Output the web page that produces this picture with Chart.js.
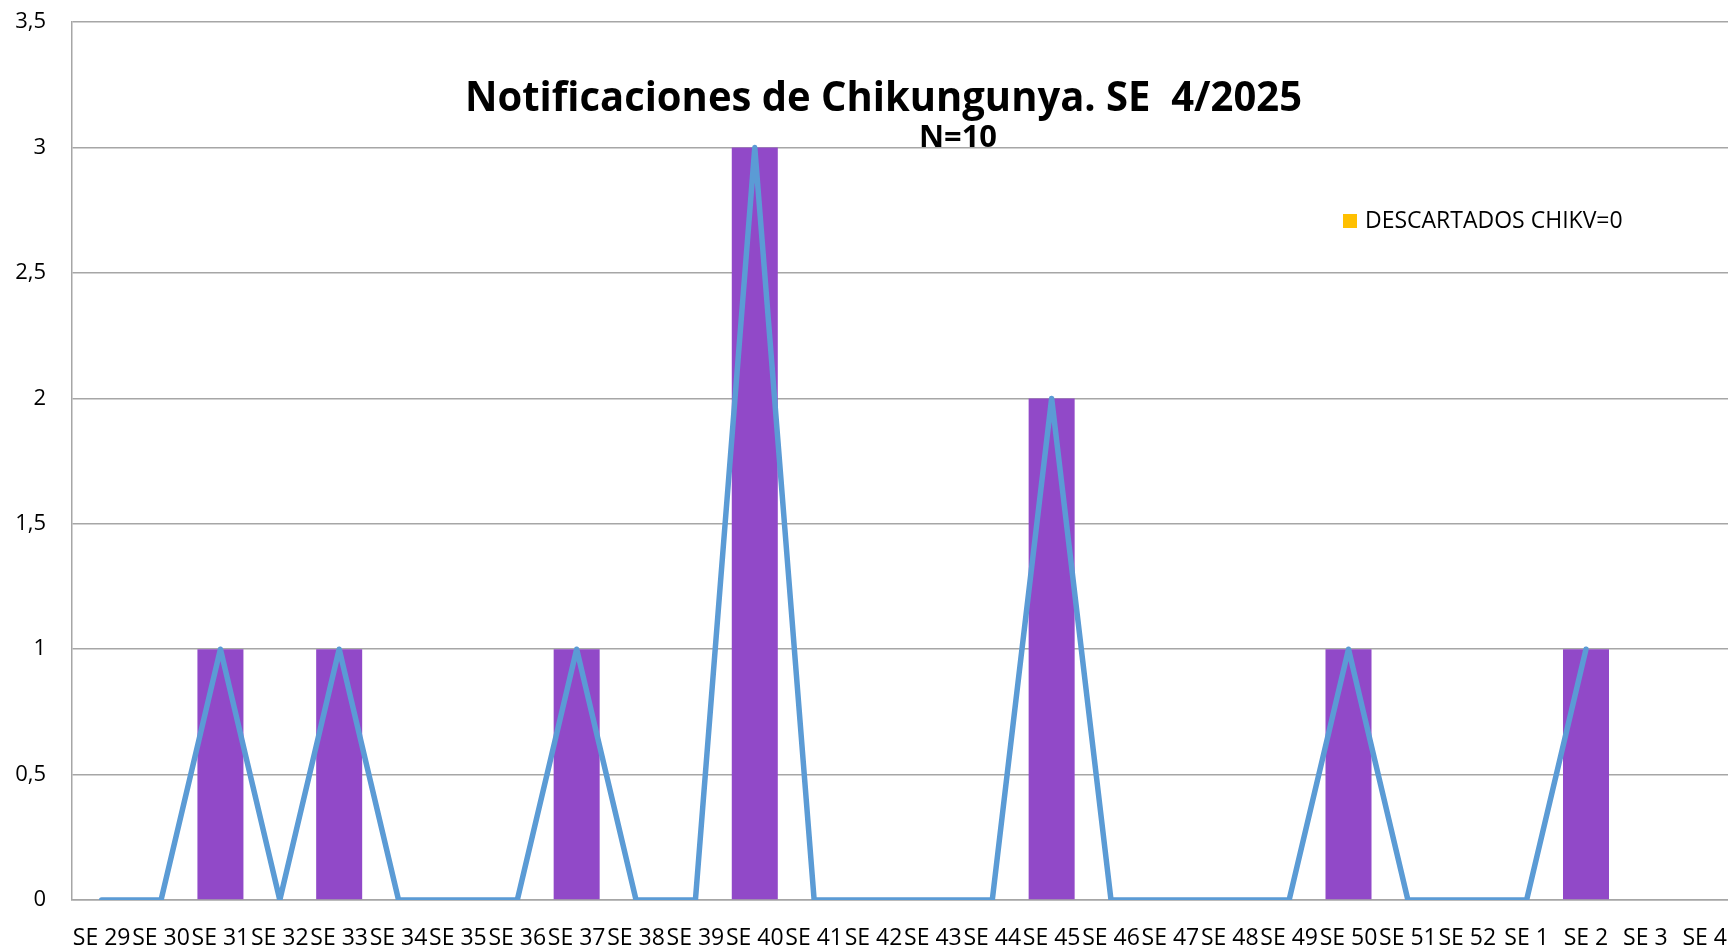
<!DOCTYPE html>
<html>
<head>
<meta charset="utf-8">
<script src="https://cdn.jsdelivr.net/npm/chart.js@4.4.1/dist/chart.umd.min.js"></script>
<style>
  html, body { margin: 0; padding: 0; background: #fff; overflow: hidden; width: 1728px; height: 947px; }
  #wrap { position: relative; width: 1728px; height: 947px; overflow: hidden; }
  #chart { position: absolute; left: 0; top: -17px; }
  .txt { position: absolute; white-space: nowrap; font-family: "Open Sans", sans-serif; color: #000; transform-origin: 0 0; }
  #title { left: 465px; top: 75px; font-size: 41px; line-height: 41px; font-weight: bold; }
  #subtitle { left: 919px; top: 121px; font-size: 30px; line-height: 30px; font-weight: bold; }
  #legend { left: 1343px; top: 208px; font-size: 23px; line-height: 23px; }
  #legend .box { display: inline-block; width: 14px; height: 14px; margin-right: 8px; vertical-align: 0px; }
</style>
</head>
<body>
<div id="wrap">
  <canvas id="chart" width="1752" height="964"></canvas>
  <div class="txt" id="title">Notificaciones de Chikungunya. SE&nbsp; 4/2025</div>
  <div class="txt" id="subtitle">N=10</div>
  <div class="txt" id="legend"></div>
</div>
<script>
// semanas epidemiologicas
const semanas = ['SE 29', 'SE 30', 'SE 31', 'SE 32', 'SE 33', 'SE 34', 'SE 35', 'SE 36', 'SE 37', 'SE 38',
                 'SE 39', 'SE 40', 'SE 41', 'SE 42', 'SE 43', 'SE 44', 'SE 45', 'SE 46', 'SE 47', 'SE 48',
                 'SE 49', 'SE 50', 'SE 51', 'SE 52', 'SE 1', 'SE 2', 'SE 3', 'SE 4'];

// notificaciones por semana (barras)
const notificaciones = [0, 0, 1, 0, 1, 0, 0, 0, 1, 0,
                        0, 3, 0, 0, 0, 0, 2, 0, 0, 0,
                        0, 1, 0, 0, 0, 1, null, null];

// misma serie como linea, termina en SE 2
const tendencia = [0, 0, 1, 0, 1, 0, 0, 0, 1, 0,
                   0, 3, 0, 0, 0, 0, 2, 0, 0, 0,
                   0, 1, 0, 0, 0, 1, null, null];

// descartados (todo cero)
const descartados = [0, 0, 0, 0, 0, 0, 0, 0, 0, 0,
                     0, 0, 0, 0, 0, 0, 0, 0, 0, 0,
                     0, 0, 0, 0, 0, 0, 0, 0];

const yTicks = [0, 0.5, 1, 1.5, 2, 2.5, 3, 3.5];

const ctx = document.getElementById('chart').getContext('2d');
const chart = new Chart(ctx, {
  data: {
    labels: semanas,
    datasets: [
      {
        type: 'line',
        label: 'Tendencia',
        data: tendencia,
        borderColor: '#5B9BD5',
        borderWidth: 5.5,
        pointRadius: 0,
        tension: 0,
        borderJoinStyle: 'round',
        borderCapStyle: 'round',
        order: 1
      },
      {
        type: 'bar',
        label: 'Notificaciones',
        data: notificaciones,
        backgroundColor: '#9149C8',
        grouped: false,
        categoryPercentage: 1,
        barPercentage: 0.775,
        order: 2
      },
      {
        type: 'bar',
        label: 'DESCARTADOS CHIKV=0',
        data: descartados,
        backgroundColor: '#FFC000',
        grouped: false,
        categoryPercentage: 1,
        barPercentage: 0.775,
        order: 3
      }
    ]
  },
  options: {
    responsive: false,
    animation: false,
    layout: { padding: { top: 6, right: 0, left: 0, bottom: 0 } },
    plugins: {
      legend: { display: false },
      title: { display: false },
      tooltip: { enabled: false }
    },
    scales: {
      x: {
        offset: true,
        grid: { display: false, drawTicks: false },
        border: { display: true, color: '#A6A6A6', width: 1.5 },
        ticks: {
          autoSkip: false,
          maxRotation: 0,
          minRotation: 0,
          padding: 25,
          color: '#000',
          font: { family: 'Open Sans', size: 23 }
        },
        afterFit: s => { s.height = 47; }
      },
      y: {
        min: 0,
        max: 3.5,
        afterBuildTicks: s => { s.ticks = yTicks.map(v => ({ value: v })); },
        grid: { color: '#A6A6A6', lineWidth: 1.5, drawTicks: false },
        border: { display: true, color: '#A6A6A6', width: 1.5 },
        ticks: {
          padding: 26,
          color: '#000',
          font: { family: 'Open Sans', size: 22 },
          callback: v => String(v).replace('.', ',')
        },
        afterFit: s => { s.width = 72; }
      }
    }
  }
});

// leyenda solo con la serie de descartados
const leg = document.getElementById('legend');
chart.data.datasets.filter(d => d.label.startsWith('DESCARTADOS')).forEach(d => {
  leg.innerHTML = '<span class="box" style="background:' + d.backgroundColor + '"></span>' + d.label;
});

// ajustar ancho de los textos al original
function fit(id, target) {
  const el = document.getElementById(id);
  const w = el.getBoundingClientRect().width;
  el.style.transform = 'scaleX(' + (target / w) + ')';
}
fit('title', 837);
fit('subtitle', 78);
</script>
</body>
</html>
